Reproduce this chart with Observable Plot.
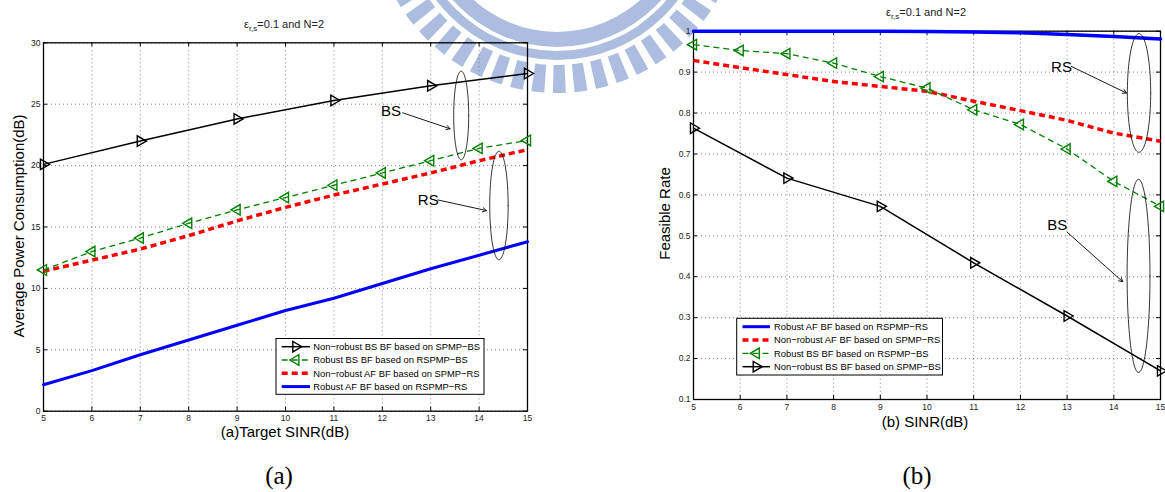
<!DOCTYPE html>
<html><head><meta charset="utf-8">
<script src="https://cdn.jsdelivr.net/npm/d3@7"></script>
<script src="https://cdn.jsdelivr.net/npm/@observablehq/plot@0.6"></script>
<style>
body{margin:0;background:#fff;}
#wrap{position:relative;width:1165px;height:492px;overflow:hidden;background:#fff;}
#wrap > svg{position:absolute;}
</style></head><body><div id="wrap"></div>
<script>
// ---------- data ----------
const sinr = [5,6,7,8,9,10,11,12,13,14,15];
const sinrOdd = [5,7,9,11,13,15];
// panel (a): average power consumption (dB)
const aNonRobustBS = [20.1,22.0,23.8,25.3,26.5,27.5];          // at sinrOdd
const aRobustBS    = [11.5,13.0,14.1,15.3,16.4,17.4,18.4,19.4,20.4,21.4,22.05];
const aNonRobustAF = [11.4,12.3,13.2,14.3,15.5,16.6,17.6,18.5,19.4,20.4,21.3];
const aRobustAF    = [2.15,3.3,4.6,5.8,7.0,8.2,9.2,10.4,11.6,12.7,13.8];
const aYTicks = [0,5,10,15,20,25,30];
// panel (b): feasible rate
const bRobustAF    = [1.0,1.0,1.0,1.0,1.0,0.999,0.998,0.996,0.992,0.987,0.981];
const bNonRobustAF = [0.9285,0.911,0.894,0.877,0.865,0.853,0.829,0.806,0.782,0.751,0.731];
const bRobustBS    = [0.967,0.953,0.945,0.922,0.889,0.861,0.808,0.772,0.712,0.633,0.572];
const bNonRobustBS = [0.763,0.641,0.572,0.434,0.304,0.170];   // at sinrOdd
const bYTicks = [0.1,0.2,0.3,0.4,0.5,0.6,0.7,0.8,0.9,1];

const labelsA = ["Non\u2212robust BS BF based on SPMP\u2212BS","Robust BS BF based on RSPMP\u2212BS","Non\u2212robust AF BF based on SPMP\u2212RS","Robust AF BF based on RSPMP\u2212RS"];
const labelsB = ["Robust AF BF based on RSPMP\u2212RS","Non\u2212robust AF BF based on SPMP\u2212RS","Robust BS BF based on RSPMP\u2212BS","Non\u2212robust BS BF based on SPMP\u2212BS"];

const FONT = "'Liberation Sans', Arial, sans-serif";
const GREEN = "#008000";
const wrap = d3.select("#wrap");
const tbl = (xs, ys) => ys.map((y,i)=>({x:xs[i], y}));
const ell = (cx,cy,rx,ry)=>d3.range(0,97).map(i=>{const t=i/96*2*Math.PI;return {x:cx+rx*Math.cos(t), y:cy+ry*Math.sin(t)};});

// ---------- watermark (background) ----------
const wm = wrap.append("svg").attr("width",1165).attr("height",492).style("left","0px").style("top","0px");
const g = wm.append("g").attr("transform","translate(557,-92)").attr("fill","#adbde0");
g.append("path").attr("d", d3.arc()({innerRadius:124,outerRadius:139,startAngle:0,endAngle:2*Math.PI}));
g.append("path").attr("d", d3.arc()({innerRadius:143,outerRadius:152,startAngle:0,endAngle:2*Math.PI}));
for (let a = Math.PI - 1.3 - 0.035; a < Math.PI + 1.3; a += 0.117) {
  g.append("path").attr("d", d3.arc()({innerRadius:157,outerRadius:185,startAngle:a,endAngle:a+0.07}));
}

const common = (w,h,ml,mr,mt,mb) => ({width:w,height:h,marginLeft:ml,marginRight:mr,marginTop:mt,marginBottom:mb,
  style:`background:transparent;overflow:visible;font-family:${FONT};`});
const gridStyle = {stroke:"#666", strokeOpacity:1, strokeDasharray:"1,3", strokeWidth:0.8};
const dashed = (stroke,w)=>({x:"x",y:"y",stroke,strokeWidth:w,strokeDasharray:"6,4",strokeLinecap:"butt",strokeLinejoin:"miter"});

// ---------- panel (a) ----------
const plotA = Plot.plot({
  ...common(560,450,43,33,42.3,39.3),
  x:{domain:[5,15]}, y:{domain:[0,30]},
  marks:[
    Plot.gridX(sinr, gridStyle),
    Plot.gridY(aYTicks, gridStyle),
    Plot.frame({stroke:"black", strokeWidth:1.3}),
    Plot.ruleX(sinr,{y1:0,y2:0.33,stroke:"black"}),
    Plot.ruleX(sinr,{y1:30,y2:29.67,stroke:"black"}),
    Plot.ruleY(aYTicks,{x1:5,x2:5.085,stroke:"black"}),
    Plot.ruleY(aYTicks,{x1:15,x2:14.915,stroke:"black"}),
    Plot.axisX(sinr,{tickSize:0,tickPadding:4,fontSize:8.5,fill:"#222",label:null}),
    Plot.axisY(aYTicks,{tickSize:0,tickPadding:3,fontSize:8.5,fill:"#222",label:null}),
    Plot.line(tbl(sinr,aRobustAF),{x:"x",y:"y",stroke:"#0000ff",strokeWidth:3}),
    Plot.line(tbl(sinr,aNonRobustAF),dashed("#ff0000",3.5)),
    Plot.line(tbl(sinr,aRobustBS),dashed(GREEN,1.3)),
    Plot.dot(tbl(sinr,aRobustBS),{x:"x",y:"y",symbol:"triangle",rotate:-90,r:3.9,stroke:GREEN,fill:"none",strokeWidth:1.4}),
    Plot.line(tbl(sinrOdd,aNonRobustBS),{x:"x",y:"y",stroke:"black",strokeWidth:1.5}),
    Plot.dot(tbl(sinrOdd,aNonRobustBS),{x:"x",y:"y",symbol:"triangle",rotate:90,r:3.9,stroke:"black",fill:"none",strokeWidth:1.4}),
    Plot.line(ell(13.63,24.08,0.155,3.61),{x:"x",y:"y",stroke:"black",strokeWidth:0.8}),
    Plot.line(ell(14.41,16.75,0.19,4.42),{x:"x",y:"y",stroke:"black",strokeWidth:0.8}),
    Plot.arrow([{x1:12.42,y1:24.3,x2:13.40,y2:23.0},{x1:13.15,y1:17.2,x2:14.15,y2:16.34}],
      {x1:"x1",y1:"y1",x2:"x2",y2:"y2",stroke:"black",strokeWidth:0.9,headLength:7}),
    Plot.text([{x:12.18,y:24.4,t:"BS"},{x:12.95,y:17.15,t:"RS"}],{x:"x",y:"y",text:"t",fontSize:15,fill:"black"})
  ]
});
d3.select(plotA).style("position","absolute").style("left","0px").style("top","0px");
wrap.node().appendChild(plotA);

// ---------- panel (b) ----------
const plotB = Plot.plot({
  ...common(565,440,93,5,30.7,41),
  x:{domain:[5,15]}, y:{domain:[0.1,1]},
  marks:[
    Plot.gridX(sinr, gridStyle),
    Plot.gridY(bYTicks, gridStyle),
    Plot.frame({stroke:"black", strokeWidth:1.3}),
    Plot.ruleX(sinr,{y1:0.1,y2:0.11,stroke:"black"}),
    Plot.ruleX(sinr,{y1:1,y2:0.99,stroke:"black"}),
    Plot.ruleY(bYTicks,{x1:5,x2:5.086,stroke:"black"}),
    Plot.ruleY(bYTicks,{x1:15,x2:14.914,stroke:"black"}),
    Plot.axisX(sinr,{tickSize:0,tickPadding:4,fontSize:8.5,fill:"#222",label:null}),
    Plot.axisY(bYTicks,{tickSize:0,tickPadding:3,fontSize:8.5,fill:"#222",label:null,tickFormat:d=>d===1?"1":d.toFixed(1)}),
    Plot.line(tbl(sinr,bRobustAF),{x:"x",y:"y",stroke:"#0000ff",strokeWidth:3.5}),
    Plot.line(tbl(sinr,bNonRobustAF),dashed("#ff0000",3.5)),
    Plot.line(tbl(sinr,bRobustBS),dashed(GREEN,1.3)),
    Plot.dot(tbl(sinr,bRobustBS),{x:"x",y:"y",symbol:"triangle",rotate:-90,r:3.9,stroke:GREEN,fill:"none",strokeWidth:1.4}),
    Plot.line(tbl(sinrOdd,bNonRobustBS),{x:"x",y:"y",stroke:"black",strokeWidth:1.5}),
    Plot.dot(tbl(sinrOdd,bNonRobustBS),{x:"x",y:"y",symbol:"triangle",rotate:90,r:3.9,stroke:"black",fill:"none",strokeWidth:1.4}),
    Plot.line(ell(14.54,0.849,0.25,0.145),{x:"x",y:"y",stroke:"black",strokeWidth:0.8}),
    Plot.line(ell(14.53,0.402,0.245,0.236),{x:"x",y:"y",stroke:"black",strokeWidth:0.8}),
    Plot.arrow([{x1:13.09,y1:0.914,x2:14.27,y2:0.849},{x1:13.0,y1:0.509,x2:14.19,y2:0.388}],
      {x1:"x1",y1:"y1",x2:"x2",y2:"y2",stroke:"black",strokeWidth:0.9,headLength:7}),
    Plot.text([{x:12.88,y:0.912,t:"RS"},{x:12.79,y:0.527,t:"BS"}],{x:"x",y:"y",text:"t",fontSize:15,fill:"black"})
  ]
});
d3.select(plotB).style("position","absolute").style("left","600px").style("top","0px");
wrap.node().appendChild(plotB);

// ---------- overlay: titles, axis labels, legends ----------
const ov = wrap.append("svg").attr("width",1165).attr("height",492).style("left","0px").style("top","0px")
  .style("font-family",FONT);

function title(cx, base) {
  const t = ov.append("text").attr("x",cx).attr("y",base).attr("text-anchor","middle").attr("font-size",11).attr("fill","#222");
  t.append("tspan").text("\u03b5");
  t.append("tspan").attr("font-size",8).attr("dy",3).text("r,s");
  t.append("tspan").attr("dy",-3).text("=0.1 and N=2");
}
title(284, 27.5);
title(926, 16);

ov.append("text").attr("x",285).attr("y",437).attr("text-anchor","middle").attr("font-size",15).text("(a)Target SINR(dB)");
ov.append("text").attr("x",925).attr("y",427).attr("text-anchor","middle").attr("font-size",15).text("(b) SINR(dB)");
ov.append("text").attr("transform","translate(24,226) rotate(-90)").attr("text-anchor","middle").attr("font-size",15).text("Average Power Consumption(dB)");
ov.append("text").attr("transform","translate(669.5,213.5) rotate(-90)").attr("text-anchor","middle").attr("font-size",15).text("Feasible Rate");
ov.append("text").attr("x",279).attr("y",484).attr("text-anchor","middle").attr("font-size",25).attr("font-family","'Liberation Serif','DejaVu Serif',serif").text("(a)");
ov.append("text").attr("x",917).attr("y",484).attr("text-anchor","middle").attr("font-size",25).attr("font-family","'Liberation Serif','DejaVu Serif',serif").text("(b)");

const styleA = [
  {stroke:"black",w:1.5,dash:null,marker:90},
  {stroke:GREEN,w:1.3,dash:"6,4",marker:-90},
  {stroke:"#ff0000",w:3.5,dash:"6,4",marker:null},
  {stroke:"#0000ff",w:3,dash:null,marker:null}
];
const styleB = [styleA[3], styleA[2], styleA[1], styleA[0]];
function legend(x0,y0,x1,y1,rows,lineX0,lineX1,textX,labels,styles){
  ov.append("rect").attr("x",x0).attr("y",y0).attr("width",x1-x0).attr("height",y1-y0)
    .attr("fill","white").attr("stroke","black").attr("stroke-width",1);
  labels.forEach((lab,i)=>{
    const s = styles[i], y = rows[i];
    ov.append("line").attr("x1",lineX0).attr("x2",lineX1).attr("y1",y).attr("y2",y)
      .attr("stroke",s.stroke).attr("stroke-width",s.w).attr("stroke-dasharray",s.dash);
    if (s.marker!==null) {
      ov.append("path").attr("d",d3.symbol(d3.symbolTriangle, Math.PI*3.9*3.9)())
        .attr("transform",`translate(${(lineX0+lineX1)/2},${y}) rotate(${s.marker})`)
        .attr("fill","none").attr("stroke",s.stroke).attr("stroke-width",1.4);
    }
    ov.append("text").attr("x",textX).attr("y",y).attr("dy","0.35em").attr("font-size",9.4).attr("fill","black").text(lab);
  });
}
legend(276,338.5,484,394.3,[346.7,360,373.3,386.6],281.7,310,313.3,labelsA,styleA);
legend(736.7,318.3,942.5,375,[326.7,340,353.3,366.7],742.5,770,774,labelsB,styleB);
</script></body></html>
